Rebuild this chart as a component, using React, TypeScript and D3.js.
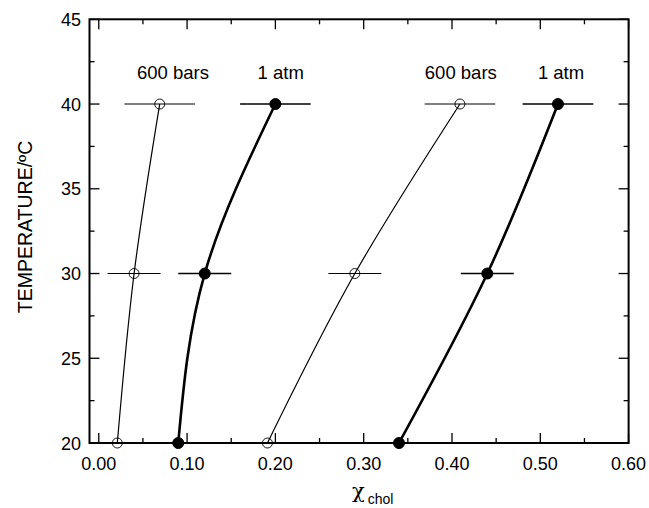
// Temperature vs chol mole fraction, 600 bars vs 1 atm
import React, { useRef, useEffect } from 'react';
import * as d3 from 'd3';

const temps = [20, 30, 40];
const bars600Left = [0.021, 0.040, 0.069];
const atm1Left = [0.090, 0.120, 0.200];
const bars600Right = [0.191, 0.290, 0.409];
const atm1Right = [0.340, 0.440, 0.520];
const xErrors = [0, 0.03, 0.04];

const xTicks = [0, 0.1, 0.2, 0.3, 0.4, 0.5, 0.6];
const xMinor = [0.05, 0.15, 0.25, 0.35, 0.45, 0.55];
const yTicks = [20, 25, 30, 35, 40, 45];
const yMinor = [22.5, 27.5, 32.5, 37.5, 42.5];

const labelTexts = ['600 bars', '1 atm', '600 bars', '1 atm'];
const labelX = [0.084, 0.206, 0.41, 0.5235];
const labelTemp = [41.5, 41.5, 41.5, 41.5];

const W = 649;
const H = 508;
const FONT = 'Arial, "Liberation Sans", sans-serif';

export default function App() {
  const svgRef = useRef<SVGSVGElement | null>(null);

  useEffect(() => {
    if (!svgRef.current) return;
    const svg = d3.select(svgRef.current);
    svg.selectAll('*').remove();

    const x = d3.scaleLinear().domain([-0.0105, 0.6]).range([89.5, 628.6]);
    const y = d3.scaleLinear().domain([20, 45]).range([443, 19.3]);
    const [x0, x1] = x.range();
    const [yb, yt] = y.range();

    const g = svg.append('g');

    // ticks (inward on all four sides)
    const tick = (x1_: number, y1_: number, x2_: number, y2_: number, w = 1.3) =>
      g.append('line')
        .attr('x1', x1_).attr('y1', y1_).attr('x2', x2_).attr('y2', y2_)
        .attr('stroke', '#000').attr('stroke-width', w);

    xTicks.forEach(v => {
      tick(x(v), yb, x(v), yb - 10);
      tick(x(v), yt, x(v), yt + 10);
    });
    xMinor.forEach(v => {
      tick(x(v), yb, x(v), yb - 5);
      tick(x(v), yt, x(v), yt + 5);
    });
    yTicks.forEach(v => {
      tick(x0, y(v), x0 + 10, y(v));
      tick(x1, y(v), x1 - 10, y(v));
    });
    yMinor.forEach(v => {
      tick(x0, y(v), x0 + 5, y(v));
      tick(x1, y(v), x1 - 5, y(v));
    });

    // frame
    g.append('rect')
      .attr('x', x0).attr('y', yt)
      .attr('width', x1 - x0).attr('height', yb - yt)
      .attr('fill', 'none').attr('stroke', '#000').attr('stroke-width', 2);

    // tick labels
    g.selectAll('.xlab')
      .data(xTicks)
      .join('text')
      .attr('x', d => x(d))
      .attr('y', 470)
      .attr('text-anchor', 'middle')
      .style('font-family', FONT)
      .style('font-size', '18px')
      .text(d => d.toFixed(2));

    g.selectAll('.ylab')
      .data(yTicks)
      .join('text')
      .attr('x', 81)
      .attr('y', d => y(d) + 6.5)
      .attr('text-anchor', 'end')
      .style('font-family', FONT)
      .style('font-size', '18px')
      .text(d => String(d));

    // axis titles
    g.append('text')
      .attr('transform', 'translate(32, 227) rotate(-90)')
      .attr('text-anchor', 'middle')
      .style('font-family', FONT)
      .style('font-size', '19.5px')
      .text('TEMPERATURE/ºC');

    const xt = g.append('text')
      .attr('x', 352)
      .attr('y', 498);
    xt.append('tspan')
      .style('font-family', '"DejaVu Serif", "Liberation Serif", serif')
      .style('font-size', '21px')
      .text('χ');
    xt.append('tspan')
      .attr('dx', 3)
      .attr('dy', 6)
      .style('font-family', FONT)
      .style('font-size', '14px')
      .text('chol');

    // series
    const series = [
      { xs: bars600Left, filled: false },
      { xs: atm1Left, filled: true },
      { xs: bars600Right, filled: false },
      { xs: atm1Right, filled: true },
    ];

    const line = d3.line<[number, number]>()
      .x(d => x(d[0]))
      .y(d => y(d[1]))
      .curve(d3.curveMonotoneY);

    series.forEach(s => {
      const pts: [number, number][] = s.xs.map((v, i) => [v, temps[i]]);
      const w = s.filled ? 2.6 : 1.2;

      // error bars
      pts.forEach((p, i) => {
        if (!xErrors[i]) return;
        g.append('line')
          .attr('x1', x(p[0] - xErrors[i])).attr('x2', x(p[0] + xErrors[i]))
          .attr('y1', y(p[1])).attr('y2', y(p[1]))
          .attr('stroke', '#000')
          .attr('stroke-width', s.filled ? 1.6 : 1.1);
      });

      g.append('path')
        .attr('d', line(pts))
        .attr('fill', 'none')
        .attr('stroke', '#000')
        .attr('stroke-width', w);

      g.selectAll(null)
        .data(pts)
        .join('circle')
        .attr('cx', d => x(d[0]))
        .attr('cy', d => y(d[1]))
        .attr('r', s.filled ? 5.5 : 5)
        .attr('fill', s.filled ? '#000' : '#fff')
        .attr('fill-opacity', s.filled ? 1 : 0)
        .attr('stroke', '#000')
        .attr('stroke-width', s.filled ? 1 : 0.9);
    });

    // annotations
    g.selectAll('.ann')
      .data(labelTexts)
      .join('text')
      .attr('x', (_, i) => x(labelX[i]))
      .attr('y', (_, i) => y(labelTemp[i]))
      .attr('text-anchor', 'middle')
      .style('font-family', FONT)
      .style('font-size', '18.5px')
      .text(d => d);
  }, []);

  return (
    <svg
      ref={svgRef}
      width={W}
      height={H}
      style={{ position: 'absolute', left: 0, top: 0, background: '#fff', display: 'block' }}
    />
  );
}
